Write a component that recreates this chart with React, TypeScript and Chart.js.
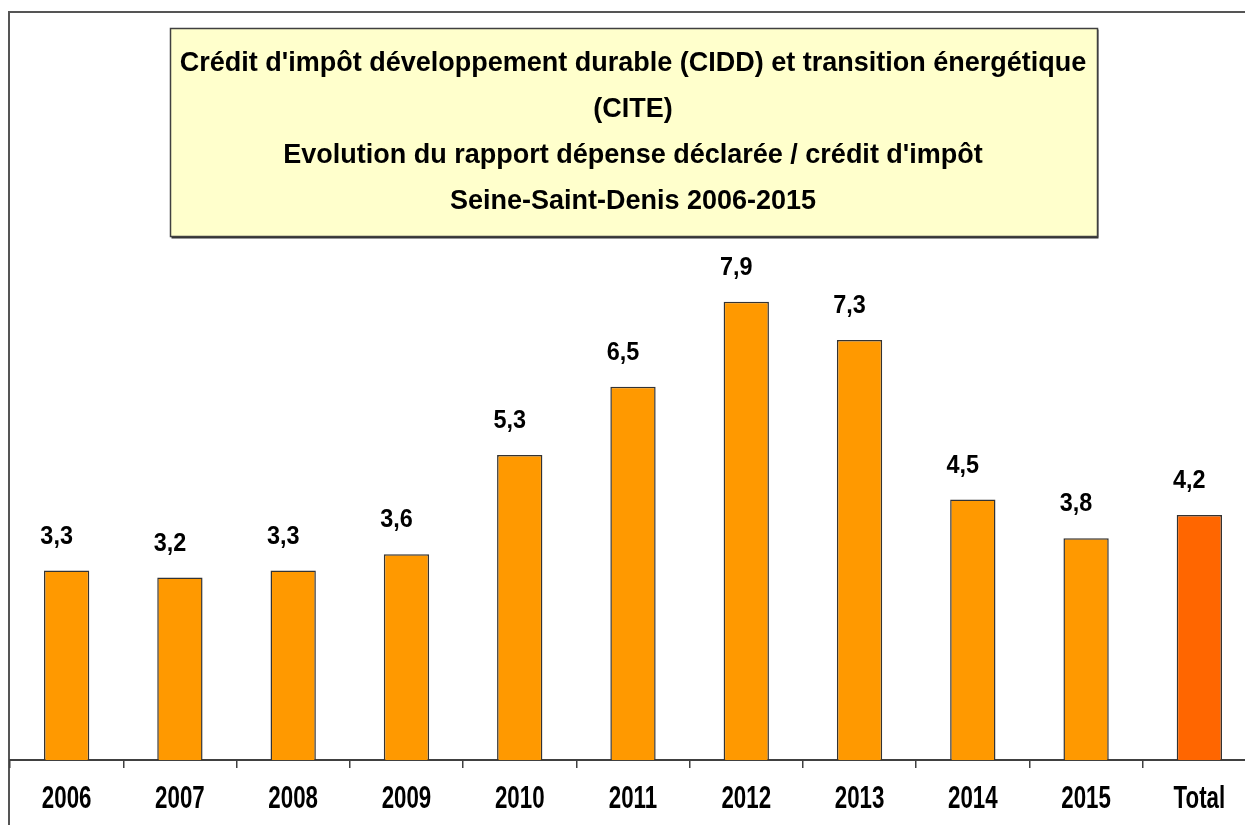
import React, { useEffect, useRef } from "react";
import { Chart, registerables, CategoryScale } from "chart.js";

Chart.register(...registerables);

const categories = ["2006", "2007", "2008", "2009", "2010", "2011", "2012", "2013", "2014", "2015", "Total"];
const ratioValues = [3.28, 3.16, 3.28, 3.56, 5.28, 6.46, 7.93, 7.27, 4.51, 3.84, 4.24];
const barColors = [
  "#FF9900", "#FF9900", "#FF9900", "#FF9900", "#FF9900",
  "#FF9900", "#FF9900", "#FF9900", "#FF9900", "#FF9900", "#FF6600",
];
const titleLines = [
  "Crédit d'impôt développement durable (CIDD) et transition énergétique",
  "(CITE)",
  "Evolution du rapport dépense déclarée / crédit d'impôt",
  "Seine-Saint-Denis 2006-2015",
];

const FONT = "'Liberation Sans', Arial, Helvetica, sans-serif";
const TICK_SQUEEZE = 0.72;
const LABEL_SQUEEZE = 0.9;

class CondensedCategoryScale extends CategoryScale {
  static id = "condensedCategory";
  static defaults = CategoryScale.defaults;
  drawLabels(chartArea: any) {
    const ctx: any = (this as any).ctx;
    const orig = ctx.fillText;
    ctx.fillText = function (text: string, x: number, y: number, maxWidth?: number) {
      const w = this.measureText(text).width * TICK_SQUEEZE;
      return orig.call(this, text, x, y, maxWidth !== undefined ? Math.min(maxWidth, w) : w);
    };
    try {
      super.drawLabels(chartArea);
    } finally {
      delete ctx.fillText;
      if (ctx.fillText !== orig) ctx.fillText = orig;
    }
  }
}
Chart.register(CondensedCategoryScale as any);

const framePlugin = {
  id: "frameAndTitleBox",
  beforeDraw(chart: any) {
    const ctx = chart.ctx;
    ctx.save();
    ctx.fillStyle = "#FFFFFF";
    ctx.fillRect(0, 0, chart.width, chart.height);
    ctx.strokeStyle = "#555555";
    ctx.lineWidth = 2;
    ctx.strokeRect(9, 12, chart.width + 50, chart.height + 50);
    const tb = chart.titleBlock;
    if (tb) {
      ctx.font = `bold 27px ${FONT}`;
      let maxW = 0;
      titleLines.forEach((l) => (maxW = Math.max(maxW, ctx.measureText(l).width)));
      const cx = (tb.left + tb.right) / 2;
      const w = Math.round(maxW + 20);
      const x0 = Math.round(cx - w / 2) + 0.5;
      const y0 = Math.round(tb.top) + 0.5;
      const h = Math.round(tb.height - 4);
      ctx.fillStyle = "#333333";
      ctx.fillRect(x0 + 1, y0 + 1, w, h + 1);
      ctx.fillStyle = "#FFFFCC";
      ctx.fillRect(x0, y0, w, h);
      ctx.strokeStyle = "#404040";
      ctx.lineWidth = 1.5;
      ctx.strokeRect(x0, y0, w, h);
    }
    ctx.restore();
  },
};

const valueLabelPlugin = {
  id: "valueLabels",
  afterDatasetsDraw(chart: any) {
    const ctx = chart.ctx;
    const meta = chart.getDatasetMeta(0);
    ctx.save();
    ctx.font = `bold 26px ${FONT}`;
    ctx.fillStyle = "#000000";
    ctx.textAlign = "center";
    ctx.textBaseline = "middle";
    meta.data.forEach((bar: any, i: number) => {
      const text = ratioValues[i].toFixed(1).replace(".", ",");
      const w = ctx.measureText(text).width * LABEL_SQUEEZE;
      ctx.fillText(text, bar.x - 10, bar.y - 34, w);
    });
    ctx.restore();
  },
};

export default function App() {
  const canvasRef = useRef<HTMLCanvasElement | null>(null);

  useEffect(() => {
    if (!canvasRef.current) return;
    const chart = new Chart(canvasRef.current, {
      type: "bar",
      data: {
        labels: categories,
        datasets: [
          {
            data: ratioValues,
            backgroundColor: barColors,
            borderColor: "#333333",
            borderWidth: 1.5,
            barPercentage: 0.4,
            categoryPercentage: 1,
          },
        ],
      },
      options: {
        animation: false,
        responsive: false,
        maintainAspectRatio: false,
        layout: { padding: { left: 10, right: 14, top: 28, bottom: 0 } },
        plugins: {
          legend: { display: false },
          tooltip: { enabled: false },
          title: {
            display: true,
            text: titleLines,
            color: "#000000",
            font: { family: FONT, size: 27, weight: "bold", lineHeight: 46 / 27 },
            padding: { top: 13, bottom: 15 },
          },
        },
        scales: {
          x: {
            type: "condensedCategory" as any,
            offset: true,
            grid: {
              offset: true,
              drawOnChartArea: false,
              drawTicks: true,
              tickLength: 8,
              color: "#404040",
              lineWidth: 1.5,
            },
            border: { display: true, color: "#404040", width: 2 },
            ticks: {
              color: "#000000",
              font: { family: FONT, size: 31, weight: "bold" },
              padding: 13,
              maxRotation: 0,
              autoSkip: false,
            },
            afterFit: (s: any) => {
              s.height = 65;
            },
          },
          y: { display: false, min: 0, max: 9 },
        },
      } as any,
      plugins: [framePlugin, valueLabelPlugin],
    });
    return () => chart.destroy();
  }, []);

  return (
    <div
      style={{
        position: "fixed",
        left: 0,
        top: 0,
        width: 1245,
        height: 825,
        overflow: "hidden",
        background: "#FFFFFF",
      }}
    >
      <canvas ref={canvasRef} width={1270} height={825} style={{ display: "block" }} />
    </div>
  );
}
